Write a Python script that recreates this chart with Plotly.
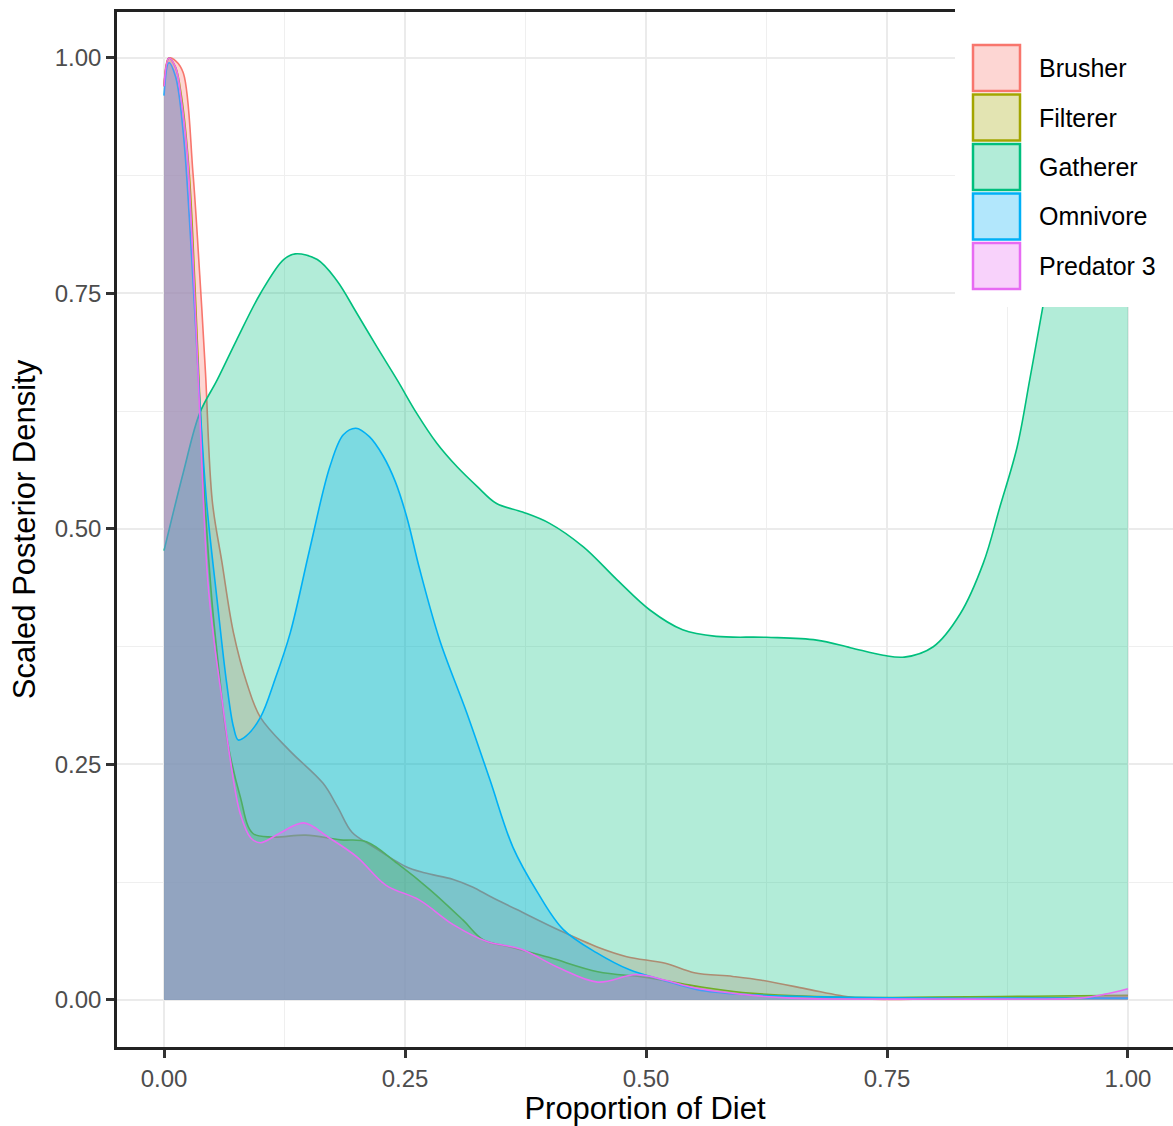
import plotly.graph_objects as go

# Posterior density curves (scaled) for each feeding group
group_names = ["Brusher", "Filterer", "Gatherer", "Omnivore", "Predator 3"]
group_colors = ["#F8766D", "#A3A500", "#00BF7D", "#00B0F6", "#E76BF3"]

brusher_x = [0, 0.005, 0.012, 0.02, 0.03, 0.037, 0.043, 0.05, 0.06, 0.072, 0.086, 0.1,
             0.13, 0.165, 0.18, 0.195, 0.215, 0.25, 0.27, 0.3, 0.32, 0.34, 0.366, 0.41,
             0.45, 0.48, 0.52, 0.55, 0.59, 0.62, 0.67, 0.7, 0.73, 0.8, 0.9, 1.0]
brusher_y = [0.97, 1.0, 0.997, 0.984, 0.878, 0.77, 0.666, 0.53, 0.465, 0.39, 0.336, 0.30,
             0.265, 0.23, 0.205, 0.178, 0.164, 0.142, 0.135, 0.128, 0.12, 0.109, 0.096, 0.074,
             0.056, 0.046, 0.039, 0.029, 0.025, 0.021, 0.011, 0.005, 0.001, 0.001, 0.002, 0.003]

filterer_x = [0, 0.005, 0.012, 0.018, 0.026, 0.032, 0.037, 0.043, 0.05, 0.058, 0.065,
              0.079, 0.092, 0.113, 0.147, 0.183, 0.21, 0.242, 0.276, 0.31, 0.331, 0.36,
              0.4, 0.45, 0.5, 0.55, 0.6, 0.7, 0.8, 0.9, 1.0]
filterer_y = [0.97, 1.0, 0.99, 0.96, 0.88, 0.76, 0.64, 0.52, 0.42, 0.34, 0.279,
              0.216, 0.177, 0.173, 0.175, 0.17, 0.168, 0.145, 0.117, 0.085, 0.064, 0.056,
              0.045, 0.03, 0.024, 0.015, 0.008, 0.003, 0.003, 0.004, 0.005]

gatherer_x = [0, 0.02, 0.037, 0.055, 0.075, 0.1, 0.124, 0.136, 0.159, 0.179, 0.2, 0.221,
              0.242, 0.262, 0.283, 0.304, 0.325, 0.345, 0.372, 0.40, 0.435, 0.47, 0.504,
              0.538, 0.573, 0.625, 0.677, 0.712, 0.746, 0.768, 0.798, 0.826, 0.85, 0.867,
              0.885, 0.898, 0.911, 0.93, 0.95, 0.975, 1.0]
gatherer_y = [0.477, 0.56, 0.623, 0.658, 0.70, 0.75, 0.786, 0.792, 0.786, 0.764, 0.729, 0.693,
              0.658, 0.623, 0.591, 0.566, 0.545, 0.527, 0.518, 0.506, 0.481, 0.446, 0.414,
              0.393, 0.386, 0.385, 0.382, 0.374, 0.366, 0.364, 0.375, 0.41, 0.464, 0.523,
              0.587, 0.658, 0.732, 0.84, 0.95, 1.06, 1.15]

omnivore_x = [0, 0.005, 0.012, 0.02, 0.028, 0.037, 0.044, 0.055, 0.065, 0.072, 0.077, 0.085,
              0.1, 0.115, 0.131, 0.151, 0.172, 0.186, 0.199, 0.213, 0.227, 0.24, 0.252, 0.265,
              0.286, 0.314, 0.338, 0.362, 0.387, 0.414, 0.449, 0.483, 0.518, 0.553, 0.6, 0.7,
              0.8, 0.9, 1.0]
omnivore_y = [0.96, 0.995, 0.98, 0.92, 0.8, 0.637, 0.53, 0.425, 0.336, 0.29, 0.276, 0.28,
              0.30, 0.34, 0.39, 0.478, 0.566, 0.60, 0.607, 0.598, 0.578, 0.55, 0.512, 0.458,
              0.382, 0.305, 0.234, 0.162, 0.115, 0.075, 0.05, 0.032, 0.021, 0.011, 0.006, 0.003,
              0.002, 0.002, 0.002]

predator3_x = [0, 0.005, 0.012, 0.018, 0.024, 0.029, 0.033, 0.038, 0.045, 0.052, 0.06, 0.068,
               0.079, 0.09, 0.1, 0.12, 0.145, 0.17, 0.2, 0.23, 0.265, 0.3, 0.335, 0.37, 0.41,
               0.45, 0.49, 0.52, 0.55, 0.6, 0.65, 0.7, 0.8, 0.9, 0.95, 0.975, 1.0]
predator3_y = [0.97, 1.0, 0.99, 0.955, 0.9, 0.81, 0.72, 0.6, 0.45, 0.38, 0.32, 0.26,
               0.198, 0.172, 0.167, 0.177, 0.188, 0.173, 0.152, 0.122, 0.106, 0.08, 0.062, 0.054,
               0.034, 0.019, 0.027, 0.021, 0.013, 0.006, 0.002, 0.001, 0.001, 0.001, 0.002, 0.006,
               0.012]

tick_vals = [0, 0.25, 0.5, 0.75, 1.0]
tick_text = ["0.00", "0.25", "0.50", "0.75", "1.00"]

series_x = [brusher_x, filterer_x, gatherer_x, omnivore_x, predator3_x]
series_y = [brusher_y, filterer_y, gatherer_y, omnivore_y, predator3_y]

W, H = 1173, 1126
M_L, M_R, M_T, M_B = 117, 0, 12, 79
PLOT_W = W - M_L - M_R
PLOT_H = H - M_T - M_B


def rgba(hex_color, alpha):
    h = hex_color.lstrip("#")
    r, g, b = int(h[0:2], 16), int(h[2:4], 16), int(h[4:6], 16)
    return f"rgba({r},{g},{b},{alpha})"


def px_x(px):
    return (px - M_L) / PLOT_W


def px_y(py):
    return (H - M_B - py) / PLOT_H


fig = go.Figure()
for name, color, xs, ys in zip(group_names, group_colors, series_x, series_y):
    fig.add_trace(go.Scatter(
        x=xs, y=ys, name=name, mode="lines",
        line=dict(color=color, width=1.6, shape="spline", smoothing=1.0),
        fill="tozeroy", fillcolor=rgba(color, 0.3),
        showlegend=False, hoverinfo="x+y+name",
    ))

FONT = "Liberation Sans, Arial, sans-serif"
grid_major = dict(showgrid=True, gridcolor="#EBEBEB", gridwidth=2)
minor = dict(dtick=0.125, tick0=0, showgrid=True, gridcolor="#EFEFEF", gridwidth=1, ticks="")

shapes = []
annotations = []

# legend panel: white background, coloured keys and labels
shapes.append(dict(type="rect", xref="paper", yref="paper", layer="above",
                   x0=px_x(955), x1=px_x(W + 5), y0=px_y(307), y1=px_y(-5),
                   fillcolor="white", line=dict(width=0)))
key_top = 45
key_step = 49.5
key_h = 46
for i, (name, color) in enumerate(zip(group_names, group_colors)):
    top = key_top + i * key_step
    shapes.append(dict(type="rect", xref="paper", yref="paper", layer="above",
                       x0=px_x(973), x1=px_x(1020), y0=px_y(top + key_h), y1=px_y(top),
                       fillcolor=rgba(color, 0.3), line=dict(color=color, width=2.5)))
    annotations.append(dict(xref="paper", yref="paper", x=px_x(1037), y=px_y(top + key_h / 2),
                            text=name, showarrow=False, xanchor="left", yanchor="middle",
                            font=dict(family=FONT, size=25, color="black")))

fig.update_layout(
    width=W, height=H,
    margin=dict(l=M_L, r=M_R, t=M_T, b=M_B),
    paper_bgcolor="white", plot_bgcolor="white",
    font=dict(family=FONT),
    showlegend=False,
    shapes=shapes,
    annotations=annotations,
    xaxis=dict(
        range=[-0.0488, 1.0467], tickvals=tick_vals, ticktext=tick_text,
        ticks="outside", ticklen=8, tickwidth=2.5, tickcolor="#333333",
        tickfont=dict(family=FONT, size=24, color="#4D4D4D"),
        showline=True, linecolor="#222222", linewidth=2.5, mirror=True,
        zeroline=False, minor=minor, **grid_major,
        title=dict(text="Proportion of Diet", standoff=6,
                   font=dict(family=FONT, size=31, color="black")),
    ),
    yaxis=dict(
        range=[-0.0499, 1.0488], tickvals=tick_vals, ticktext=tick_text,
        ticks="outside", ticklen=8, tickwidth=2.5, tickcolor="#333333",
        tickfont=dict(family=FONT, size=24, color="#4D4D4D"),
        showline=True, linecolor="#222222", linewidth=2.5, mirror=False,
        zeroline=False, minor=minor, **grid_major,
        title=dict(text="Scaled Posterior Density", standoff=10,
                   font=dict(family=FONT, size=31, color="black")),
    ),
)

fig.write_html("out.html")
